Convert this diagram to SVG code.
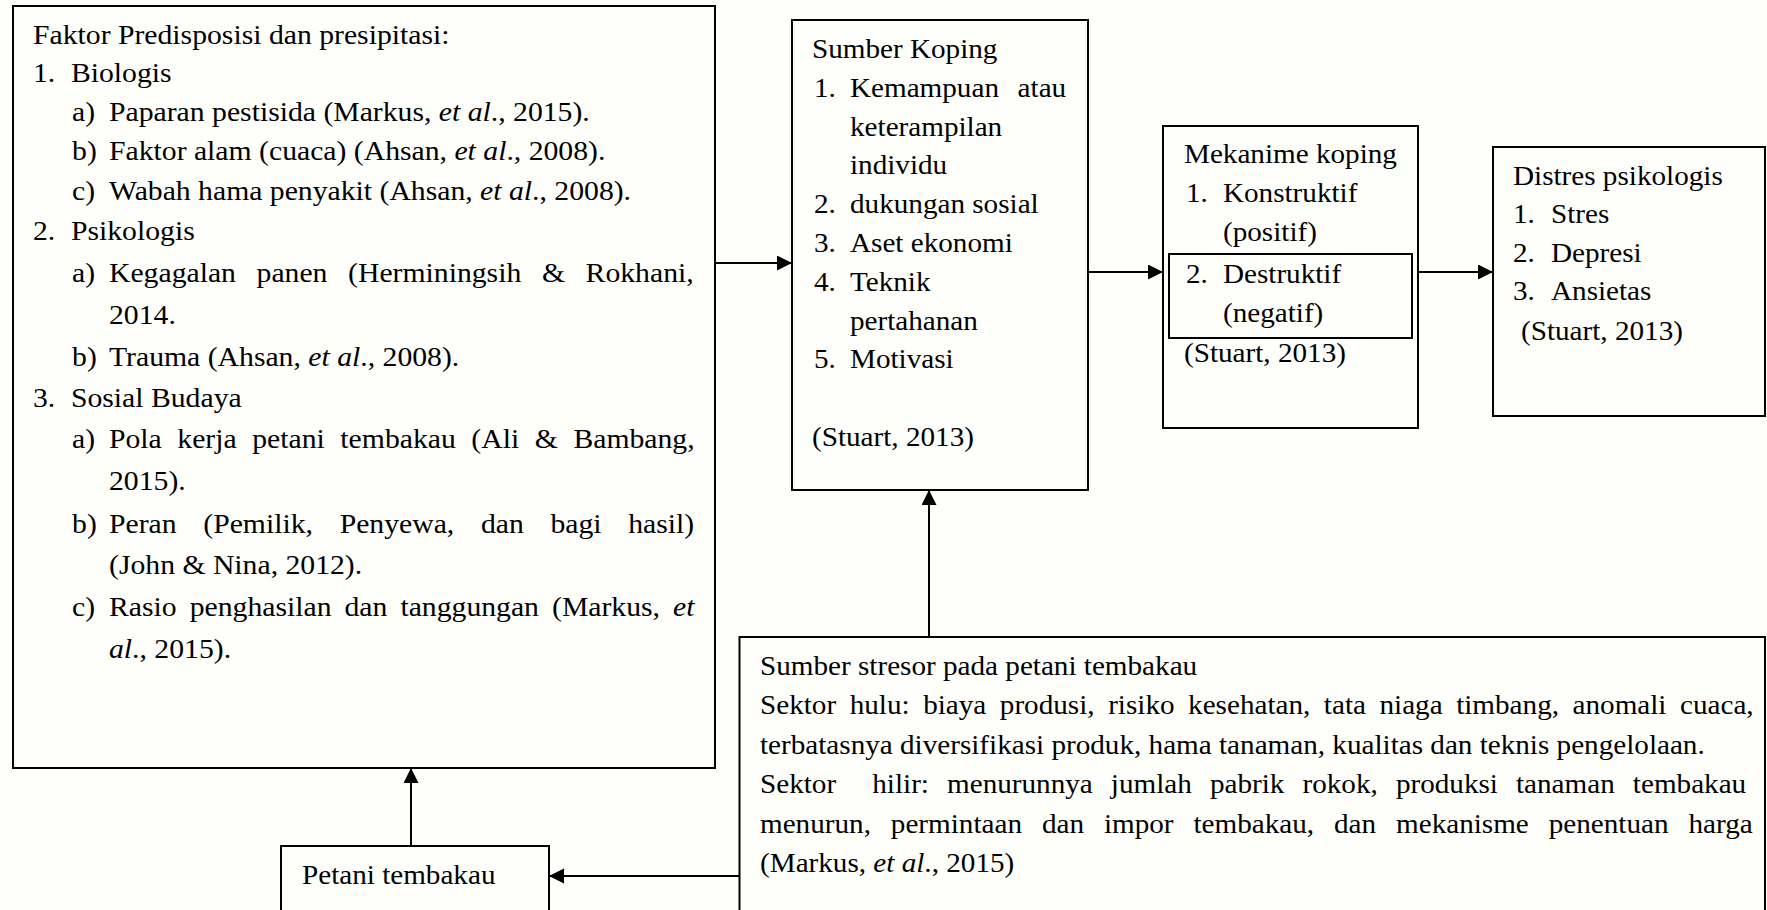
<svg xmlns="http://www.w3.org/2000/svg" width="1767" height="910" viewBox="0 0 1767 910">
<style>
.box{fill:none;stroke:#000;stroke-width:2}
.t{font-family:"Liberation Serif","Times New Roman",serif;font-size:27px;fill:#000}
.i{font-style:italic}
.c{fill:none;stroke:#000;stroke-width:2}
</style>
<defs>
<marker id="ah" markerUnits="userSpaceOnUse" markerWidth="16" markerHeight="16" refX="15" refY="7.5" orient="auto">
<path d="M0,0 L15,7.5 L0,15 Z" fill="#000"/>
</marker>
</defs>
<rect width="1767" height="910" fill="#fefefb"/>

<g id="node-predisposisi">
<rect class="box" x="13" y="6" width="702" height="762"/>
<g transform="translate(33,0) scale(1.1,1) translate(-33,0)">
<text class="t" x="33" y="44">Faktor Predisposisi dan presipitasi:</text>
<text class="t" x="33" y="82">1.</text><text class="t" x="67.5" y="82">Biologis</text>
<text class="t" x="68.5" y="121">a)</text><text class="t" x="102.1" y="121">Paparan pestisida (Markus, <tspan class="i">et al</tspan>., 2015).</text>
<text class="t" x="68.5" y="160">b)</text><text class="t" x="102.1" y="160">Faktor alam (cuaca) (Ahsan, <tspan class="i">et al</tspan>., 2008).</text>
<text class="t" x="68.5" y="200">c)</text><text class="t" x="102.1" y="200">Wabah hama penyakit (Ahsan, <tspan class="i">et al</tspan>., 2008).</text>
<text class="t" x="33" y="240">2.</text><text class="t" x="67.5" y="240">Psikologis</text>
<text class="t" x="68.5" y="282">a)</text><text class="t" x="102.1" y="282" word-spacing="12">Kegagalan panen (Herminingsih &amp; Rokhani,</text>
<text class="t" x="102.1" y="324">2014.</text>
<text class="t" x="68.5" y="366">b)</text><text class="t" x="102.1" y="366">Trauma (Ahsan, <tspan class="i">et al</tspan>., 2008).</text>
<text class="t" x="33" y="407">3.</text><text class="t" x="67.5" y="407">Sosial Budaya</text>
<text class="t" x="68.5" y="448">a)</text><text class="t" x="102.1" y="448" word-spacing="7.4">Pola kerja petani tembakau (Ali &amp; Bambang,</text>
<text class="t" x="102.1" y="490">2015).</text>
<text class="t" x="68.5" y="533">b)</text><text class="t" x="102.1" y="533" word-spacing="17.5">Peran (Pemilik, Penyewa, dan bagi hasil)</text>
<text class="t" x="102.1" y="574">(John &amp; Nina, 2012).</text>
<text class="t" x="68.5" y="616">c)</text><text class="t" x="102.1" y="616" word-spacing="5.1">Rasio penghasilan dan tanggungan (Markus, <tspan class="i">et</tspan></text>
<text class="t" x="102.1" y="658"><tspan class="i">al</tspan>., 2015).</text>
</g>
</g>

<g id="node-koping">
<rect class="box" x="792" y="20" width="296" height="470"/>
<g transform="translate(812,0) scale(1.08,1) translate(-812,0)">
<text class="t" x="812" y="58">Sumber Koping</text>
<text class="t" x="813.9" y="97">1.</text><text class="t" x="847.2" y="97" word-spacing="10.5">Kemampuan atau</text>
<text class="t" x="847.2" y="136">keterampilan</text>
<text class="t" x="847.2" y="174">individu</text>
<text class="t" x="813.9" y="213">2.</text><text class="t" x="847.2" y="213">dukungan sosial</text>
<text class="t" x="813.9" y="252">3.</text><text class="t" x="847.2" y="252">Aset ekonomi</text>
<text class="t" x="813.9" y="291">4.</text><text class="t" x="847.2" y="291">Teknik</text>
<text class="t" x="847.2" y="330">pertahanan</text>
<text class="t" x="813.9" y="368">5.</text><text class="t" x="847.2" y="368">Motivasi</text>
<text class="t" x="812" y="446">(Stuart, 2013)</text>
</g>
</g>

<g id="node-mekanisme">
<rect class="box" x="1163" y="126" width="255" height="302"/>
<rect class="box" x="1169" y="254" width="243" height="84"/>
<g transform="translate(1184,0) scale(1.08,1) translate(-1184,0)">
<text class="t" x="1184" y="163">Mekanime koping</text>
<text class="t" x="1185.9" y="202">1.</text><text class="t" x="1220.1" y="202">Konstruktif</text>
<text class="t" x="1220.1" y="241">(positif)</text>
<text class="t" x="1185.9" y="283">2.</text><text class="t" x="1220.1" y="283">Destruktif</text>
<text class="t" x="1220.1" y="322">(negatif)</text>
<text class="t" x="1184" y="362">(Stuart, 2013)</text>
</g>
</g>

<g id="node-distres">
<rect class="box" x="1493" y="147" width="272" height="269"/>
<g transform="translate(1513,0) scale(1.08,1) translate(-1513,0)">
<text class="t" x="1513" y="185">Distres psikologis</text>
<text class="t" x="1513" y="223">1.</text><text class="t" x="1548.2" y="223">Stres</text>
<text class="t" x="1513" y="262">2.</text><text class="t" x="1548.2" y="262">Depresi</text>
<text class="t" x="1513" y="300">3.</text><text class="t" x="1548.2" y="300">Ansietas</text>
<text class="t" x="1520.4" y="340">(Stuart, 2013)</text>
</g>
</g>

<g id="node-stresor">
<rect class="box" x="739.5" y="637" width="1025.5" height="290"/>
<g transform="translate(760,0) scale(1.08,1) translate(-760,0)">
<text class="t" x="760" y="675">Sumber stresor pada petani tembakau</text>
<text class="t" x="760" y="714.5" word-spacing="5.8">Sektor hulu: biaya produsi, risiko kesehatan, tata niaga timbang, anomali cuaca,</text>
<text class="t" x="760" y="754">terbatasnya diversifikasi produk, hama tanaman, kualitas dan teknis pengelolaan.</text>
<text class="t" x="760" y="793.5" word-spacing="10" style="white-space:pre">Sektor  hilir: menurunnya jumlah pabrik rokok, produksi tanaman tembakau</text>
<text class="t" x="760" y="833" word-spacing="11.7">menurun, permintaan dan impor tembakau, dan mekanisme penentuan harga</text>
<text class="t" x="760" y="872.5">(Markus, <tspan class="i">et al</tspan>., 2015)</text>
</g>
</g>

<g id="node-petani">
<rect class="box" x="281" y="846" width="268" height="90"/>
<g transform="translate(302,0) scale(1.08,1) translate(-302,0)">
<text class="t" x="302" y="884">Petani tembakau</text>
</g>
</g>

<g id="connectors">
<line class="c" x1="715" y1="263" x2="792" y2="263" marker-end="url(#ah)"/>
<line class="c" x1="1088" y1="272" x2="1163" y2="272" marker-end="url(#ah)"/>
<line class="c" x1="1418" y1="272" x2="1493" y2="272" marker-end="url(#ah)"/>
<line class="c" x1="929" y1="637" x2="929" y2="490" marker-end="url(#ah)"/>
<line class="c" x1="739.5" y1="876" x2="549" y2="876" marker-end="url(#ah)"/>
<line class="c" x1="411" y1="846" x2="411" y2="768" marker-end="url(#ah)"/>
</g>
</svg>
